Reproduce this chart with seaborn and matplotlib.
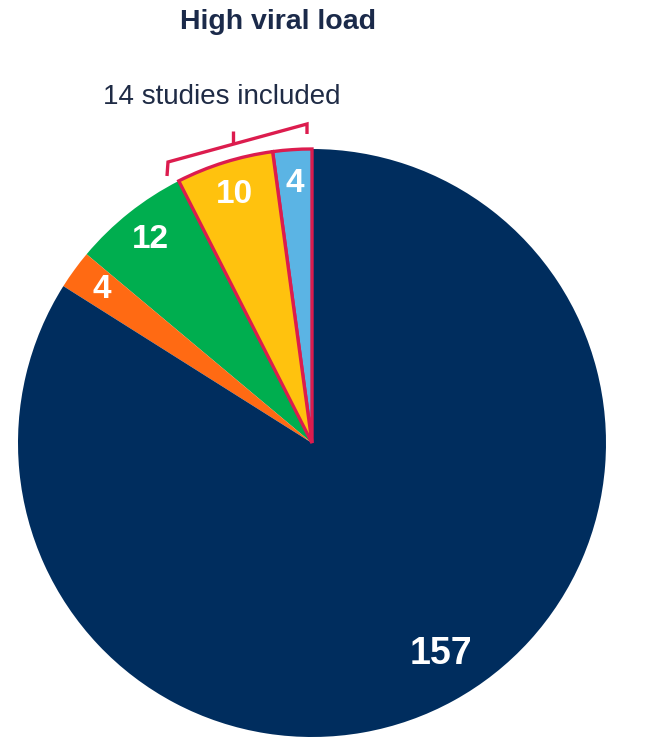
import numpy as np
import matplotlib
matplotlib.use("Agg")
import matplotlib.pyplot as plt
import seaborn as sns

# Data (counter-clockwise from 12 o'clock)
categories = ["group_a", "group_b", "group_c", "group_d", "group_e"]
counts = [4, 10, 12, 4, 157]
colors = ["#5BB4E4", "#FFC20E", "#00AE4F", "#FF6A13", "#002D5E"]
highlighted = [True, True, False, False, False]

title = "High viral load"
bracket_label = "14 studies included"

sns.set_style("white")
plt.rcParams["font.family"] = ["Liberation Sans", "DejaVu Sans"]

W, H = 666, 740
fig = plt.figure(figsize=(W / 100, H / 100), dpi=100)
ax = fig.add_axes([0, 0, 1, 1])

def py(y):
    # pixel row -> data y
    return H - y

cx, cy, r = 312, py(443), 294
edge_col = "#DC1C4E"

wedges, texts = ax.pie(
    counts, labels=[str(c) for c in counts], colors=colors,
    startangle=90, counterclock=True, center=(cx, cy), radius=r,
    labeldistance=0.885, frame=True,
    textprops=dict(color="white", fontweight="bold", fontsize=24,
                   ha="center", va="center"),
    wedgeprops=dict(linewidth=0),
)

for w, t, c in zip(wedges, texts, counts):
    t.set_horizontalalignment("center")
    t.set_verticalalignment("center")
    if c == max(counts):
        mid = np.deg2rad((w.theta1 + w.theta2) / 2 + 2.5)
        t.set_position((cx + 0.84 * r * np.cos(mid), cy + 0.84 * r * np.sin(mid)))
        t.set_fontsize(27)
for w, hl in zip(wedges, highlighted):
    if hl:
        w.set_edgecolor(edge_col)
        w.set_linewidth(2.4)
        w.set_zorder(3)
        w.set_joinstyle("miter")

# bracket over the highlighted slices
ax.plot([167, 168, 307, 307], [py(176), py(162), py(124), py(134)],
        color=edge_col, lw=2.4, solid_joinstyle="miter", solid_capstyle="butt")
ax.plot([233, 233], [py(144), py(131)], color=edge_col, lw=2.4,
        solid_capstyle="butt")

ax.set_xlim(0, W)
ax.set_ylim(0, H)
ax.set_aspect("auto")
ax.axis("off")

fig.text(278 / W, 1 - 22 / H, title, ha="center", va="center",
         fontsize=20.5, fontweight="bold", color="#1B2A4A")
fig.text(222 / W, 1 - 97 / H, bracket_label, ha="center", va="center",
         fontsize=20, color="#1F2B45")

fig.savefig("out.png", dpi=100)
